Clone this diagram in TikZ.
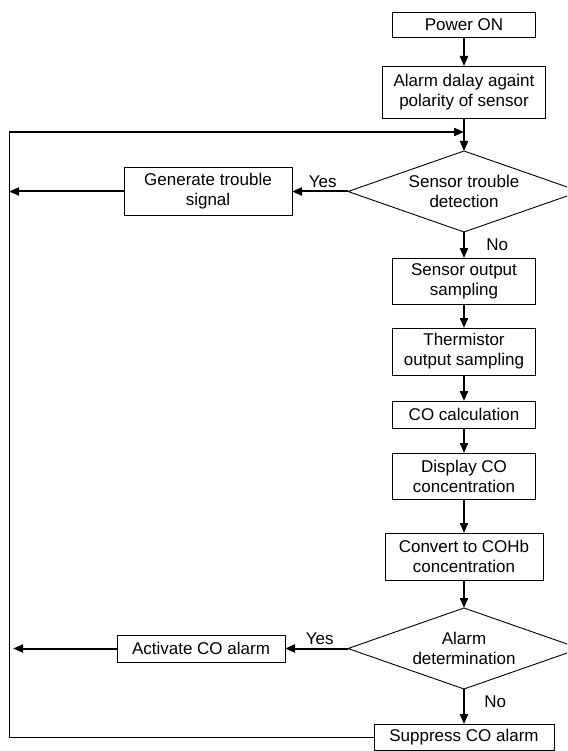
\documentclass[tikz,border=0pt]{standalone}
\usepackage{fontspec}
\setmainfont{Liberation Sans}
\usetikzlibrary{positioning,shapes.geometric,arrows.meta}

\begin{document}
\begin{tikzpicture}[x=1pt, y=1pt, node distance=26pt,
    box/.style={draw, line width=0.9pt, outer sep=0pt, align=center, minimum width=143pt, inner sep=2pt, font=\fontsize{17}{20}\selectfont},
    decision/.style={draw, diamond, line width=0.9pt, outer sep=0pt, aspect=2.86, minimum width=232pt, minimum height=81pt, inner sep=0pt, align=center, font=\fontsize{17}{20}\selectfont},
    flow/.style={line width=2pt, -{Triangle[length=10pt,width=8pt]}},
    link/.style={line width=1pt},
    lbl/.style={font=\fontsize{17}{20}\selectfont}]
    \clip (0,0) rectangle (567,-751);
    \node[box, minimum height=25pt] (power) at (464,-24.5) {Power ON};
    \node[box, minimum width=163pt, minimum height=52pt, below=29pt of power] (delay) {Alarm dalay againt\\polarity of sensor};
    \node[decision, below=33pt of delay] (trouble) {Sensor trouble\\detection};
    \node[box, minimum width=168pt, minimum height=48pt, left=56pt of trouble] (gen) {Generate trouble\\signal};
    \node[box, minimum height=46pt, below=26pt of trouble] (sensor) {Sensor output\\sampling};
    \node[box, minimum height=47pt, below=24pt of sensor] (therm) {Thermistor\\output sampling};
    \node[box, minimum height=27pt, below=26pt of therm] (calc) {CO calculation};
    \node[box, minimum height=46pt, below=25pt of calc] (disp) {Display CO\\concentration};
    \node[box, minimum width=158pt, minimum height=47pt, below=34pt of disp] (conv) {Convert to COHb\\concentration};
    \node[decision, below=28pt of conv] (alarm) {Alarm\\determination};
    \node[box, minimum width=168pt, minimum height=27pt, left=63pt of alarm] (act) {Activate CO alarm};
    \node[box, minimum width=180pt, minimum height=26pt, below=35pt of alarm] (sup) {Suppress CO alarm};
    \coordinate (loopc) at (9,-132);
    \draw[flow] (power) -- (delay);
    \draw[flow] (delay) -- (trouble);
    \draw[flow] (trouble) -- node[lbl, right=18pt] {No} (sensor);
    \draw[flow] (trouble.west) -- node[lbl, above, pos=0.45] {Yes} (gen);
    \draw[flow] (gen.west) -- (gen.west -| loopc);
    \draw[flow] (sensor) -- (therm);
    \draw[flow] (therm) -- (calc);
    \draw[flow] (calc) -- (disp);
    \draw[flow] (disp) -- (conv);
    \draw[flow] (conv) -- (alarm);
    \draw[flow] (alarm.west) -- node[lbl, above, pos=0.45] {Yes} (act);
    \draw[flow, shorten >=4pt] (act.west) -- (act.west -| loopc);
    \draw[flow] (alarm) -- node[lbl, right=16pt, pos=0.35] {No} (sup);
    \draw[link] (sup.west) -| (loopc);
    \draw[flow] (loopc) -- (loopc -| delay.south);
\end{tikzpicture}
\end{document}
